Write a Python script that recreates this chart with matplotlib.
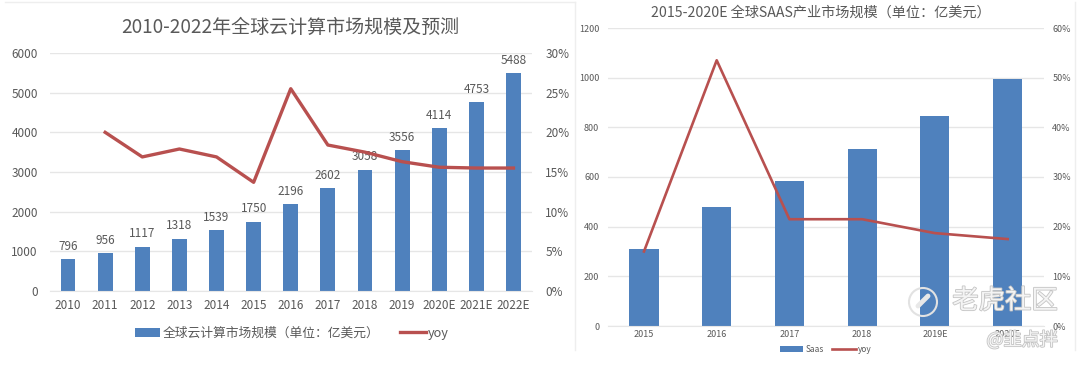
import matplotlib
matplotlib.use("Agg")
import matplotlib.patheffects as pe
import matplotlib.pyplot as plt
from matplotlib.lines import Line2D
from matplotlib.patches import Circle
from matplotlib.ticker import PercentFormatter

plt.rcParams["font.family"] = ["Noto Sans CJK SC", "DejaVu Sans"]

W, H = 1080, 365
BLUE = "#4f81bd"
RED = "#b8504f"
GREY = "#595959"
GRID = "#e6e6e6"

cloud_years = ["2010", "2011", "2012", "2013", "2014", "2015", "2016", "2017", "2018", "2019", "2020E", "2021E", "2022E"]
cloud_size = [796, 956, 1117, 1318, 1539, 1750, 2196, 2602, 3058, 3556, 4114, 4753, 5488]
cloud_yoy = [None, 20.0, 16.9, 17.9, 16.9, 13.7, 25.5, 18.4, 17.5, 16.3, 15.6, 15.5, 15.5]

saas_years = ["2015", "2016", "2017", "2018", "2019E", "2020E"]
saas_size = [312, 480, 585, 712, 845, 995]
saas_yoy = [15.0, 53.5, 21.5, 21.5, 18.7, 17.5]


def make_axes(fig, left, right, top, bottom):
    return fig.add_axes([left / W, 1 - bottom / H, (right - left) / W, (bottom - top) / H])


def style_axes(ax, ax2, labels, ymax, ystep, pctmax, pctstep, fs):
    ax.set_xlim(-0.5, len(labels) - 0.5)
    ax.set_ylim(0, ymax)
    ax.set_yticks(range(0, ymax + 1, ystep))
    ax.set_xticks(range(len(labels)))
    ax.set_xticklabels(labels)
    ax.tick_params(length=0, labelsize=fs, colors=GREY)
    ax.grid(axis="y", color=GRID, lw=1)
    ax.set_axisbelow(True)
    ax2.set_ylim(0, pctmax)
    ax2.set_yticks(range(0, pctmax + 1, pctstep))
    ax2.yaxis.set_major_formatter(PercentFormatter(decimals=0))
    ax2.tick_params(length=0, labelsize=fs, colors=GREY)
    for a in (ax, ax2):
        for s in a.spines.values():
            s.set_visible(False)
    ax.spines["bottom"].set_visible(True)
    ax.spines["bottom"].set_color(GRID)


fig = plt.figure(figsize=(W / 100, H / 100), dpi=100, facecolor="white")

# left chart
ax = make_axes(fig, 49.5, 532, 53, 291)
ax2 = ax.twinx()
bars = ax.bar(range(len(cloud_years)), cloud_size, width=0.4, color=BLUE, label="全球云计算市场规模（单位：亿美元）")
line, = ax2.plot(range(len(cloud_years)), cloud_yoy, color=RED, lw=2.4, label="yoy")
style_axes(ax, ax2, cloud_years, 6000, 1000, 30, 5, 8.5)
ax.tick_params(axis="x", pad=6)
ax.tick_params(axis="y", pad=8.5)
ax2.tick_params(axis="y", pad=9.5)
for i, v in enumerate(cloud_size):
    ax.annotate(str(v), (i, v), xytext=(0, 4.5), textcoords="offset points", ha="center", va="bottom", fontsize=8.5, color=GREY)
fig.text(290 / W, 1 - 27 / H, "2010-2022年全球云计算市场规模及预测", ha="center", va="center", fontsize=13.7, color=GREY)
fig.legend([bars, line], [bars.get_label(), line.get_label()], loc="center", bbox_to_anchor=(292 / W, 1 - 333 / H),
           ncol=2, frameon=False, fontsize=9.2, labelcolor=GREY, handlelength=2.0, columnspacing=1.6, handletextpad=0.2)

# right chart
ax = make_axes(fig, 607.6, 1044, 28, 326)
ax2 = ax.twinx()
bars = ax.bar(range(len(saas_years)), saas_size, width=0.4, color=BLUE, label="Saas")
line, = ax2.plot(range(len(saas_years)), saas_yoy, color=RED, lw=1.9, label="yoy")
style_axes(ax, ax2, saas_years, 1200, 200, 60, 10, 6.5)
ax.tick_params(axis="x", pad=3)
ax.tick_params(axis="y", pad=6)
ax2.tick_params(axis="y", pad=6)
fig.text(821 / W, 1 - 13 / H, "2015-2020E 全球SAAS产业市场规模（单位：亿美元）", ha="center", va="center", fontsize=10.2, color=GREY)
fig.legend([bars, line], [bars.get_label(), line.get_label()], loc="center", bbox_to_anchor=(826 / W, 1 - 349 / H),
           ncol=2, frameon=False, fontsize=6, labelcolor=GREY, handlelength=2.8, columnspacing=1.0, handletextpad=0.3)

# faint edges of the two pasted screenshots
for xs, ys in [((5 / W, 575 / W), (1 - 2 / H, 1 - 2 / H)),
               ((575 / W, 575 / W), (1 - 2 / H, 1 - 350 / H)),
               ((1075 / W, 1075 / W), (1 - 2 / H, 1 - 350 / H))]:
    fig.add_artist(Line2D(xs, ys, color="#eeeeee", lw=1))

# watermark
halo = [pe.withStroke(linewidth=1.2, foreground="#c4c4c4")]
fig.text(1005 / W, 1 - 301 / H, "老虎社区", ha="center", va="center", fontsize=19, color="#f4f4f4", path_effects=halo)
fig.text(1022 / W, 1 - 340 / H, "@韭点拌", ha="center", va="center", fontsize=13, color="#f4f4f4", path_effects=halo)
fig.add_artist(Circle((923, H - 302), 14, transform=None, fill=False, ec="#e2e2e2", lw=1.5))
fig.add_artist(Line2D((918 / W, 928 / W), (1 - 306 / H, 1 - 296 / H), color="#e8e8e8", lw=3.5, solid_capstyle="round"))

fig.savefig("out.png", dpi=100)
